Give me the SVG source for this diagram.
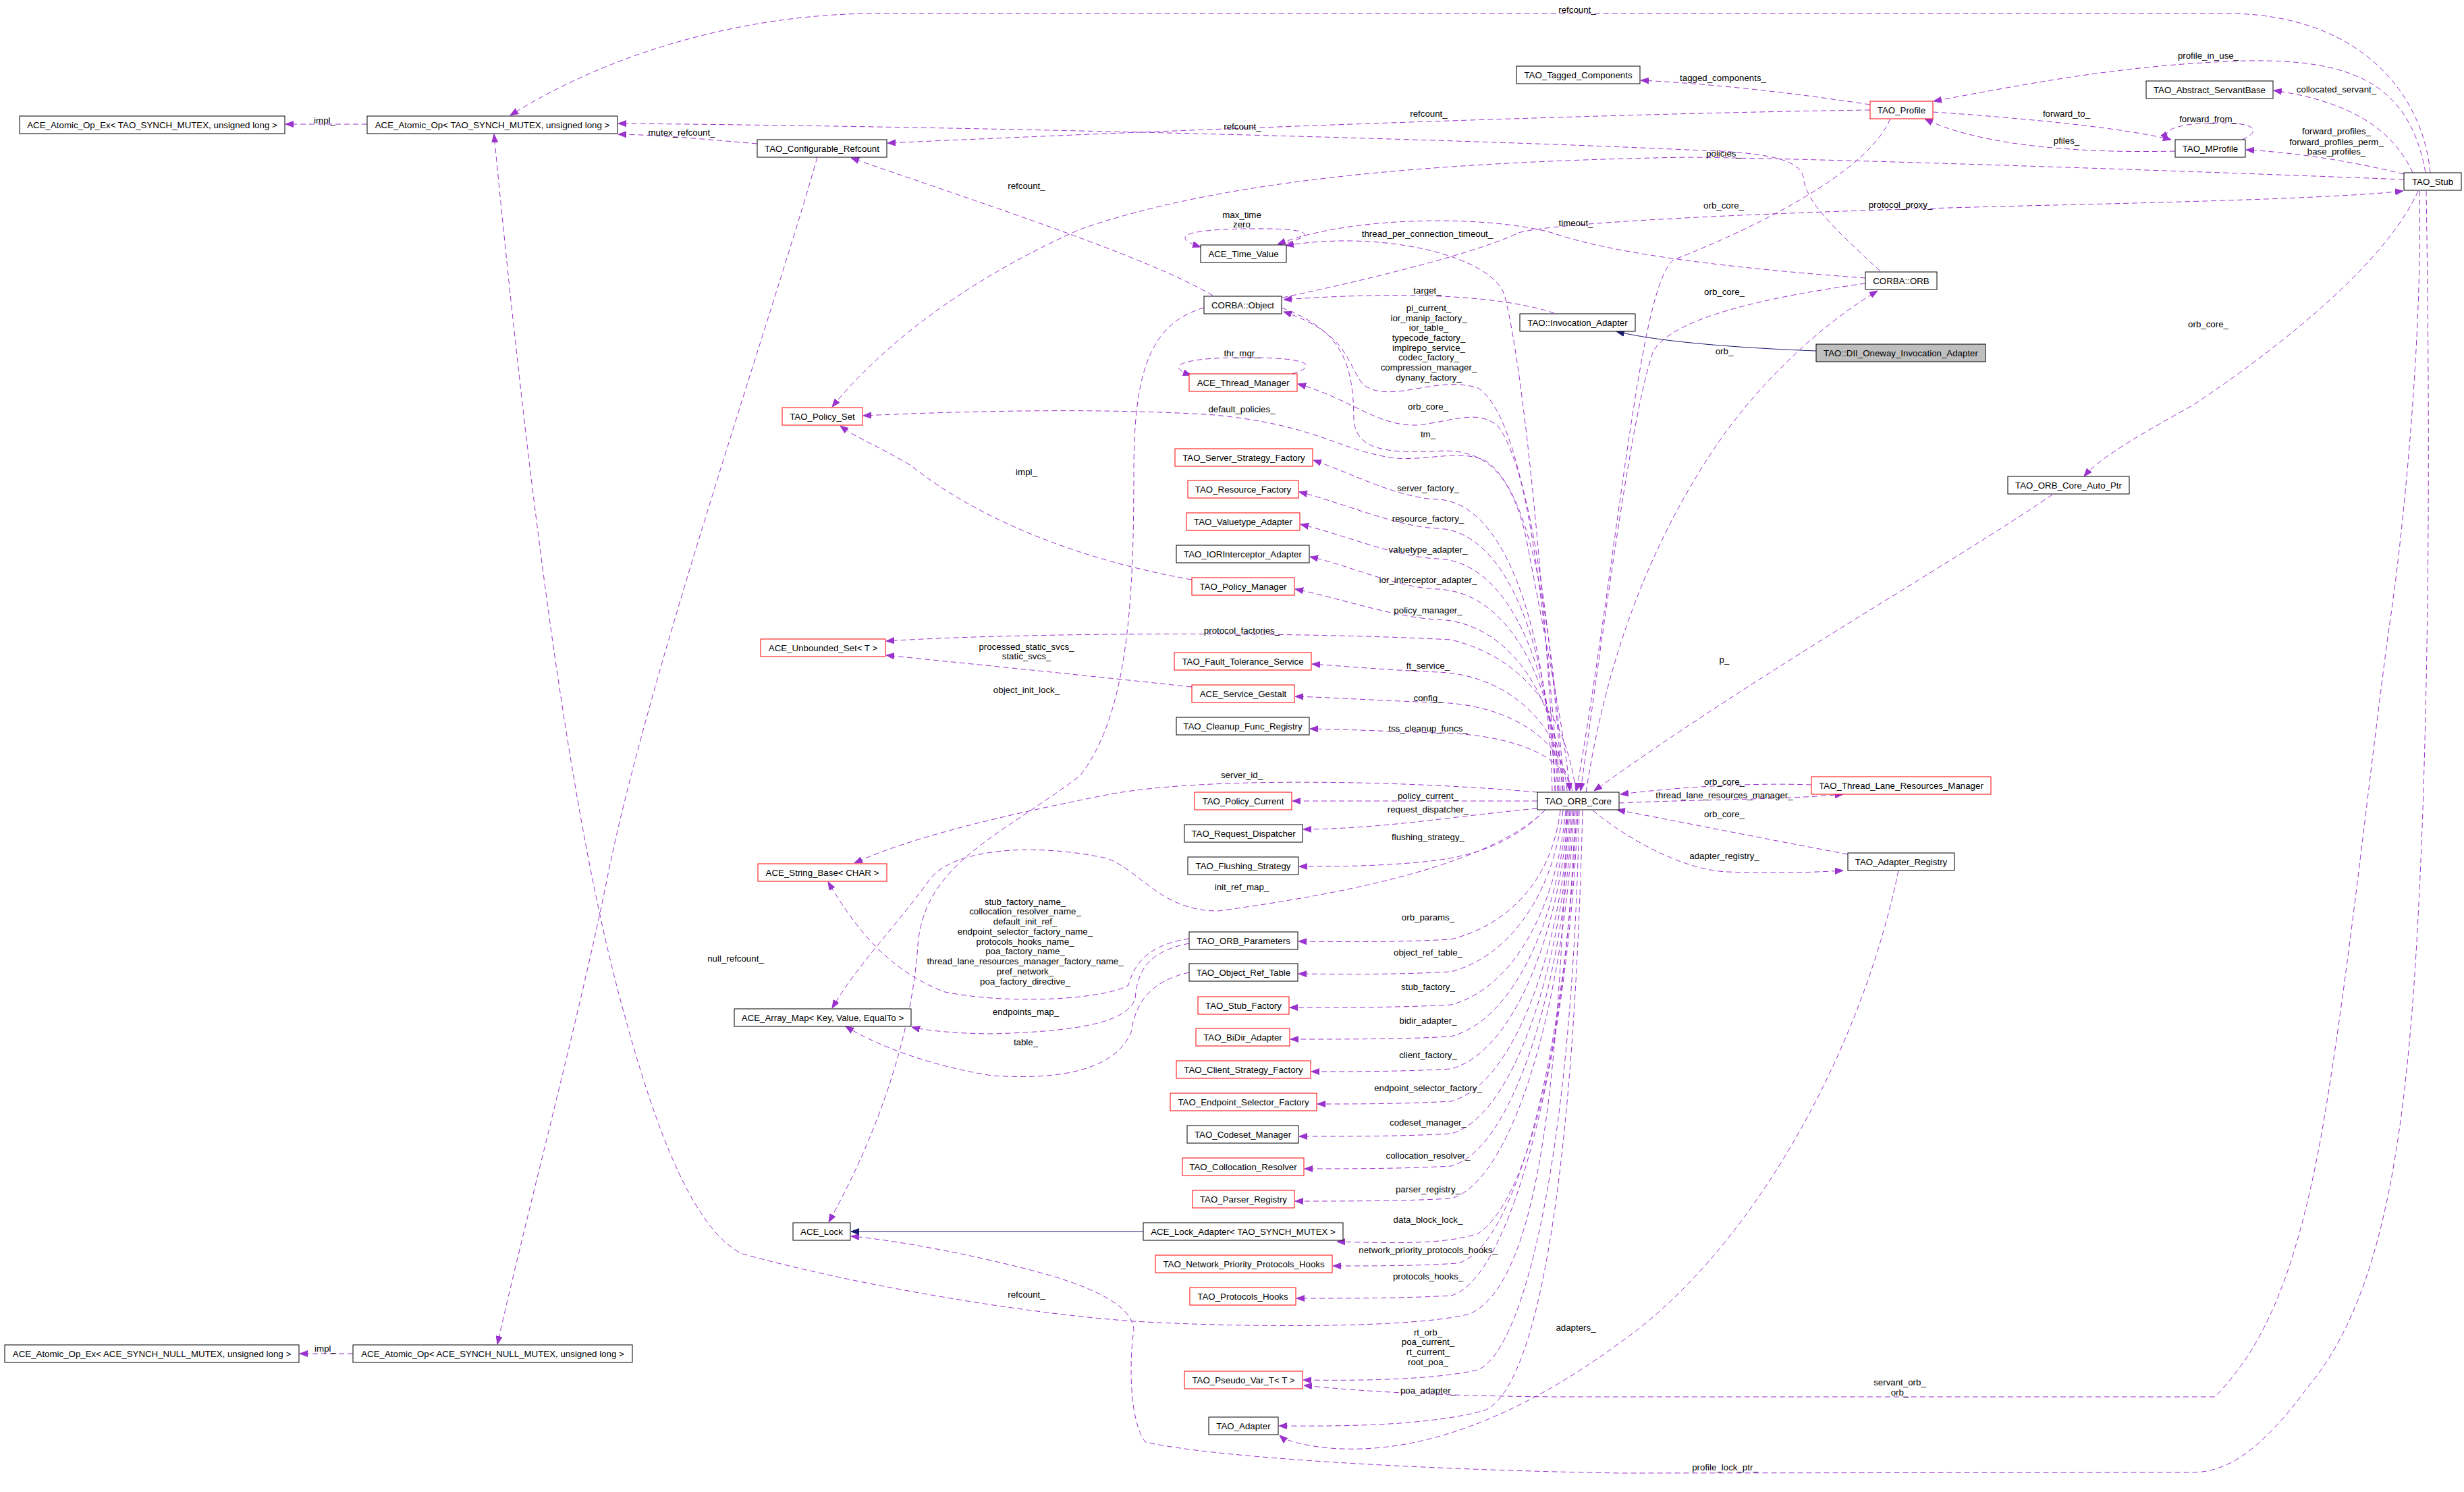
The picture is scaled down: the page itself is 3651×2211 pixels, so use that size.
<svg xmlns="http://www.w3.org/2000/svg" width="3651" height="2211" viewBox="0 0 3651 2211">
<style>
.node rect{fill:#fff;stroke:#000;stroke-width:1}
.node.red rect{stroke:#f00}
.node.root rect{fill:#bfbfbf}
text{font-family:"Liberation Sans",Arial,Helvetica,sans-serif;font-size:13.3px;fill:#000}
.node text,.lbl text{text-anchor:middle}
.e{fill:none;stroke:#9a32cd;stroke-width:1;stroke-dasharray:8 5;marker-end:url(#a)}
.i{fill:none;stroke:#191970;stroke-width:1;marker-end:url(#b)}
</style>
<defs>
<marker id="a" markerUnits="userSpaceOnUse" markerWidth="12" markerHeight="10" refX="12" refY="5" orient="auto" viewBox="0 0 12 10"><path d="M0,0.5 L12,5 L0,9.5z" fill="#9a32cd" stroke="#9a32cd"/></marker>
<marker id="b" markerUnits="userSpaceOnUse" markerWidth="12" markerHeight="10" refX="12" refY="5" orient="auto" viewBox="0 0 12 10"><path d="M0,0.5 L12,5 L0,9.5z" fill="#191970" stroke="#191970"/></marker>
</defs>
<rect width="3651" height="2211" fill="#fff"/>
<g id="edges">
<path class="e" d="M544,184 L423,184"/>
<path class="e" d="M1122,213 C1040,206 980,200 916,199"/>
<path class="e" d="M1211,233 C1150,450 960,1000 900,1300 C860,1500 780,1800 737,1992"/>
<path class="e" d="M523,2006 L444,2006"/>
<path class="e" d="M3601,256 C3590,140 3500,25 3310,20 L1300,20 C1100,20 900,80 756,171"/>
<path class="e" d="M2771,163 C2400,168 1800,190 1315,212"/>
<path class="e" d="M2786,402 C2720,340 2675,300 2672,262 C2665,232 2600,225 2500,222 C2200,208 1500,188 916,183"/>
<path class="e" d="M1797,438 C1700,380 1450,300 1261,234"/>
<path class="e" d="M2322,1201 C2310,1600 2280,1900 2178,1947 C2100,1968 1850,1968 1680,1958 C1500,1945 1250,1900 1100,1858 C1020,1820 960,1640 912,1454 C860,1250 800,900 732,199"/>
<path class="e" d="M2771,155 C2690,143 2570,126 2431,119"/>
<path class="e" d="M3594,256 C3570,120 3480,88 3330,90 C3150,95 3000,125 2865,150"/>
<path class="e" d="M3575,256 C3545,190 3480,150 3369,134"/>
<path class="e" d="M2864,166 C3000,175 3150,190 3217,207"/>
<path class="e" d="M3223,224 C3050,228 2920,210 2852,176"/>
<path class="e" d="M3322,207 C3350,195 3345,182 3290,182 C3230,182 3200,192 3213,207"/>
<path class="e" d="M3562,258 C3480,238 3400,226 3328,222"/>
<path class="e" d="M3562,266 C3200,252 2700,235 2500,233 C2100,240 1800,270 1600,340 C1420,420 1300,520 1233,603"/>
<path class="e" d="M1900,441 C2050,410 2200,370 2250,345 C2300,330 2600,315 3000,305 C3300,298 3480,292 3561,283"/>
<path class="e" d="M2764,412 C2600,400 2400,380 2300,345 C2200,318 2000,320 1893,362"/>
<path class="e" d="M2305,1172 C2290,900 2260,560 2230,440 C2215,380 2050,340 1905,364"/>
<path class="e" d="M1895,363 C1950,350 1950,338 1860,339 C1760,339 1730,350 1779,366"/>
<path class="e" d="M2303,464 C2230,440 2100,430 1902,444"/>
<path class="e" d="M2310,1172 C2290,900 2260,620 2190,575 C2130,555 2060,600 2020,570 C1995,540 2000,495 1902,462"/>
<path class="e" d="M1899,456 C1990,490 2005,540 2006,620 C2008,670 2060,672 2140,668 C2200,668 2240,700 2262,800 C2290,950 2318,1080 2326,1172"/>
<path class="e" d="M2315,1172 C2300,950 2270,700 2220,632 C2190,605 2150,625 2100,630 C2040,632 2000,590 1923,569"/>
<path class="e" d="M1915,554 C1960,540 1930,529 1840,530 C1750,530 1725,543 1765,556"/>
<path class="e" d="M2318,1172 C2300,950 2275,730 2200,682 C2160,665 2110,685 2060,678 C1980,665 1950,630 1800,615 C1650,605 1450,608 1279,616"/>
<path class="e" d="M2300,1172 C2295,950 2235,744 2130,740 C2070,738 2000,700 1946,682"/>
<path class="e" d="M2304,1172 C2298,980 2240,787 2130,783 C2070,781 1990,745 1925,729"/>
<path class="e" d="M2308,1172 C2300,1000 2240,832 2130,828 C2070,826 1990,792 1927,777"/>
<path class="e" d="M2312,1172 C2305,1020 2240,877 2130,873 C2070,871 2000,838 1941,825"/>
<path class="e" d="M2316,1172 C2310,1040 2240,922 2130,918 C2070,916 1980,885 1919,873"/>
<path class="e" d="M2322,1172 C2315,1080 2240,1000 2130,996 C2060,993 2000,988 1944,984"/>
<path class="e" d="M2326,1172 C2320,1100 2240,1044 2130,1041 C2060,1039 1980,1034 1919,1032"/>
<path class="e" d="M2330,1172 C2320,1120 2240,1088 2130,1086 C2060,1084 2000,1081 1941,1080"/>
<path class="e" d="M2335,1172 C2320,1060 2260,975 2150,948 C1900,935 1500,938 1313,950"/>
<path class="e" d="M1766,1018 C1600,1000 1450,985 1313,971"/>
<path class="e" d="M1766,859 C1600,830 1450,770 1350,690 C1300,660 1270,650 1245,631"/>
<path class="e" d="M1784,456 C1700,480 1680,560 1680,700 C1680,900 1670,1060 1600,1150 C1480,1240 1370,1280 1360,1400 C1350,1550 1290,1700 1228,1811"/>
<path class="e" d="M2290,1200 C2200,1290 1950,1330 1805,1350 C1720,1350 1690,1290 1640,1272 C1540,1250 1420,1255 1380,1300 C1330,1370 1270,1430 1233,1494"/>
<path class="e" d="M2278,1174 C2100,1158 1800,1150 1650,1176 C1500,1205 1350,1240 1266,1279"/>
<path class="e" d="M1762,1391 C1700,1400 1680,1430 1672,1460 C1640,1480 1500,1490 1400,1470 C1320,1440 1270,1380 1227,1307"/>
<path class="e" d="M1762,1398 C1700,1410 1685,1440 1682,1480 C1670,1515 1600,1528 1473,1532 C1420,1532 1370,1527 1351,1522"/>
<path class="e" d="M1762,1441 C1700,1455 1682,1490 1676,1530 C1650,1590 1560,1600 1470,1594 C1380,1580 1300,1550 1253,1521"/>
<path class="e" d="M2278,1187 L1915,1187"/>
<path class="e" d="M2278,1198 C2150,1210 2050,1228 1931,1229"/>
<path class="e" d="M2290,1200 C2250,1240 2200,1270 2100,1278 C2030,1284 1980,1284 1925,1284"/>
<path class="e" d="M2312,1201 C2300,1300 2240,1369 2150,1392 C2080,1396 2000,1396 1924,1395"/>
<path class="e" d="M2316,1201 C2303,1320 2240,1416 2150,1440 C2080,1444 2000,1444 1924,1443"/>
<path class="e" d="M2320,1201 C2306,1350 2240,1465 2150,1489 C2080,1493 2000,1493 1911,1493"/>
<path class="e" d="M2322,1201 C2308,1370 2240,1512 2150,1536 C2080,1540 2000,1540 1912,1540"/>
<path class="e" d="M2324,1201 C2310,1390 2240,1560 2150,1584 C2080,1588 2010,1588 1943,1588"/>
<path class="e" d="M2326,1201 C2312,1420 2240,1608 2150,1632 C2080,1636 2010,1636 1952,1636"/>
<path class="e" d="M2328,1201 C2314,1440 2240,1656 2150,1680 C2080,1684 2000,1684 1925,1684"/>
<path class="e" d="M2330,1201 C2316,1465 2240,1704 2150,1728 C2080,1732 2000,1732 1933,1732"/>
<path class="e" d="M2332,1201 C2318,1490 2240,1752 2150,1776 C2080,1780 2000,1780 1919,1780"/>
<path class="e" d="M2334,1201 C2320,1600 2250,1790 2190,1828 C2140,1845 2060,1842 1981,1840"/>
<path class="e" d="M2336,1201 C2322,1540 2250,1848 2160,1872 C2100,1876 2040,1876 1975,1876"/>
<path class="e" d="M2338,1201 C2324,1560 2240,1896 2150,1920 C2080,1924 2000,1924 1921,1924"/>
<path class="e" d="M2340,1201 C2330,1700 2260,2000 2190,2030 C2120,2046 2000,2046 1931,2045"/>
<path class="e" d="M2345,1201 C2330,1800 2270,2060 2200,2090 C2120,2112 2000,2114 1895,2113"/>
<path class="e" d="M3585,283 C3590,500 3560,800 3540,930 C3510,1150 3480,1450 3440,1680 C3400,1900 3350,2000 3282,2070 L2300,2070 C2100,2068 2000,2060 1932,2053"/>
<path class="e" d="M3595,283 C3600,600 3600,900 3590,1200 C3575,1600 3550,1900 3420,2055 C3350,2150 3300,2182 3248,2182 L2400,2183 C2100,2178 1800,2160 1697,2137 C1670,2100 1675,2000 1680,1972 C1680,1930 1600,1900 1515,1879 C1400,1850 1300,1835 1261,1832"/>
<path class="e" d="M2813,1290 C2760,1550 2600,1850 2400,1990 C2250,2100 2100,2160 1960,2145 C1925,2140 1905,2135 1896,2127"/>
<path class="e" d="M3583,283 C3540,380 3400,500 3250,600 C3160,650 3110,680 3088,706"/>
<path class="e" d="M3041,733 C2900,830 2600,1000 2362,1172"/>
<path class="e" d="M2684,1163 C2600,1160 2500,1165 2401,1177"/>
<path class="e" d="M2399,1190 C2500,1185 2650,1185 2731,1177"/>
<path class="e" d="M2738,1266 C2600,1240 2500,1220 2396,1200"/>
<path class="e" d="M2360,1201 C2420,1250 2500,1290 2560,1292 C2640,1295 2700,1292 2731,1290"/>
<path class="e" d="M2350,1174 C2380,980 2440,820 2530,680 C2600,570 2700,480 2782,431"/>
<path class="e" d="M2764,420 C2620,440 2480,470 2450,520 C2420,600 2380,900 2342,1172"/>
<path class="e" d="M2801,176 C2770,250 2620,330 2480,385 C2430,420 2400,800 2336,1172"/>
<path class="i" d="M2691,520 C2560,515 2450,505 2395,491"/>
<path class="i" d="M1694,1825 L1261,1825"/>
</g>
<g id="edge-labels" class="lbl">
<text x="481" y="183">impl_</text>
<text x="1010" y="201">mutex_refcount_</text>
<text x="2337" y="19">refcount_</text>
<text x="2117" y="173">refcount_</text>
<text x="1841" y="192">refcount_</text>
<text x="1521" y="280">refcount_</text>
<text x="2553" y="120">tagged_components_</text>
<text x="3272" y="87">profile_in_use_</text>
<text x="3462" y="137">collocated_servant_</text>
<text x="3062" y="173">forward_to_</text>
<text x="3272" y="181">forward_from_</text>
<text x="3062" y="213">pfiles_</text>
<text x="3462" y="199">forward_profiles_</text>
<text x="3462" y="215">forward_profiles_perm_</text>
<text x="3462" y="229">base_profiles_</text>
<text x="2554" y="232">policies_</text>
<text x="2554" y="309">orb_core_</text>
<text x="2816" y="308">protocol_proxy_</text>
<text x="1840" y="323">max_time</text>
<text x="1840" y="337">zero</text>
<text x="2335" y="335">timeout_</text>
<text x="2115" y="351">thread_per_connection_timeout_</text>
<text x="2555" y="437">orb_core_</text>
<text x="2115" y="435">target_</text>
<text x="2117" y="461">pi_current_</text>
<text x="2117" y="476">ior_manip_factory_</text>
<text x="2117" y="490">ior_table_</text>
<text x="2117" y="505">typecode_factory_</text>
<text x="2117" y="520">implrepo_service_</text>
<text x="2117" y="534">codec_factory_</text>
<text x="2117" y="549">compression_manager_</text>
<text x="2117" y="564">dynany_factory_</text>
<text x="3272" y="485">orb_core_</text>
<text x="2555" y="525">orb_</text>
<text x="1840" y="528">thr_mgr_</text>
<text x="2116" y="607">orb_core_</text>
<text x="1840" y="611">default_policies_</text>
<text x="2116" y="648">tm_</text>
<text x="1521" y="704">impl_</text>
<text x="2116" y="728">server_factory_</text>
<text x="2116" y="773">resource_factory_</text>
<text x="2116" y="819">valuetype_adapter_</text>
<text x="2116" y="864">ior_interceptor_adapter_</text>
<text x="2116" y="909">policy_manager_</text>
<text x="1840" y="939">protocol_factories_</text>
<text x="1521" y="963">processed_static_svcs_</text>
<text x="1521" y="977">static_svcs_</text>
<text x="2555" y="982">p_</text>
<text x="2116" y="991">ft_service_</text>
<text x="1521" y="1027">object_init_lock_</text>
<text x="2116" y="1039">config_</text>
<text x="2116" y="1084">tss_cleanup_funcs_</text>
<text x="1840" y="1153">server_id_</text>
<text x="2555" y="1163">orb_core_</text>
<text x="2555" y="1183">thread_lane_resources_manager_</text>
<text x="2116" y="1184">policy_current_</text>
<text x="2116" y="1204">request_dispatcher_</text>
<text x="2555" y="1211">orb_core_</text>
<text x="2116" y="1245">flushing_strategy_</text>
<text x="2555" y="1273">adapter_registry_</text>
<text x="1840" y="1319">init_ref_map_</text>
<text x="1519" y="1341">stub_factory_name_</text>
<text x="1519" y="1355">collocation_resolver_name_</text>
<text x="1519" y="1370">default_init_ref_</text>
<text x="1519" y="1385">endpoint_selector_factory_name_</text>
<text x="1519" y="1400">protocols_hooks_name_</text>
<text x="1519" y="1414">poa_factory_name_</text>
<text x="1519" y="1429">thread_lane_resources_manager_factory_name_</text>
<text x="1519" y="1444">pref_network_</text>
<text x="1519" y="1459">poa_factory_directive_</text>
<text x="2116" y="1364">orb_params_</text>
<text x="2116" y="1416">object_ref_table_</text>
<text x="1090" y="1425">null_refcount_</text>
<text x="2116" y="1467">stub_factory_</text>
<text x="1520" y="1504">endpoints_map_</text>
<text x="2116" y="1517">bidir_adapter_</text>
<text x="1520" y="1549">table_</text>
<text x="2116" y="1568">client_factory_</text>
<text x="2116" y="1617">endpoint_selector_factory_</text>
<text x="2116" y="1668">codeset_manager_</text>
<text x="2116" y="1717">collocation_resolver_</text>
<text x="2116" y="1767">parser_registry_</text>
<text x="2116" y="1812">data_block_lock_</text>
<text x="2116" y="1857">network_priority_protocols_hooks_</text>
<text x="2116" y="1896">protocols_hooks_</text>
<text x="1521" y="1923">refcount_</text>
<text x="2335" y="1972">adapters_</text>
<text x="2116" y="1979">rt_orb_</text>
<text x="2116" y="1993">poa_current_</text>
<text x="2116" y="2008">rt_current_</text>
<text x="2116" y="2023">root_poa_</text>
<text x="482" y="2003">impl_</text>
<text x="2815" y="2053">servant_orb_</text>
<text x="2815" y="2068">orb_</text>
<text x="2116" y="2065">poa_adapter_</text>
<text x="2556" y="2179">profile_lock_ptr_</text>
</g>
<g id="n-A1" class="node"><rect x="29" y="172" width="393" height="26"/><text x="225.5" y="189.7">ACE_Atomic_Op_Ex&lt; TAO_SYNCH_MUTEX, unsigned long &gt;</text></g>
<g id="n-A2" class="node"><rect x="544" y="172" width="371" height="26"/><text x="729.5" y="189.7">ACE_Atomic_Op&lt; TAO_SYNCH_MUTEX, unsigned long &gt;</text></g>
<g id="n-A3" class="node"><rect x="7" y="1993" width="436" height="26"/><text x="225" y="2010.7">ACE_Atomic_Op_Ex&lt; ACE_SYNCH_NULL_MUTEX, unsigned long &gt;</text></g>
<g id="n-A4" class="node"><rect x="523" y="1993" width="414" height="26"/><text x="730" y="2010.7">ACE_Atomic_Op&lt; ACE_SYNCH_NULL_MUTEX, unsigned long &gt;</text></g>
<g id="n-CR" class="node"><rect x="1122" y="207" width="192" height="26"/><text x="1218" y="224.7">TAO_Configurable_Refcount</text></g>
<g id="n-TC" class="node"><rect x="2247" y="98" width="183" height="26"/><text x="2338.5" y="115.7">TAO_Tagged_Components</text></g>
<g id="n-TP" class="node red"><rect x="2771" y="150" width="93" height="26"/><text x="2817.5" y="167.7">TAO_Profile</text></g>
<g id="n-ASB" class="node"><rect x="3180" y="120" width="188" height="26"/><text x="3274" y="137.7">TAO_Abstract_ServantBase</text></g>
<g id="n-MP" class="node"><rect x="3223" y="207" width="104" height="26"/><text x="3275" y="224.7">TAO_MProfile</text></g>
<g id="n-ST" class="node"><rect x="3562" y="256" width="85" height="26"/><text x="3604.5" y="273.7">TAO_Stub</text></g>
<g id="n-TV" class="node"><rect x="1779" y="363" width="127" height="26"/><text x="1842.5" y="380.7">ACE_Time_Value</text></g>
<g id="n-CO" class="node"><rect x="1784" y="439" width="115" height="26"/><text x="1841.5" y="456.7">CORBA::Object</text></g>
<g id="n-ORB" class="node"><rect x="2764" y="403" width="106" height="26"/><text x="2817" y="420.7">CORBA::ORB</text></g>
<g id="n-IA" class="node"><rect x="2252" y="465" width="171" height="26"/><text x="2337.5" y="482.7">TAO::Invocation_Adapter</text></g>
<g id="n-DII" class="node root"><rect x="2691" y="510" width="251" height="26"/><text x="2816.5" y="527.7">TAO::DII_Oneway_Invocation_Adapter</text></g>
<g id="n-TM" class="node red"><rect x="1762" y="554" width="160" height="26"/><text x="1842" y="571.7">ACE_Thread_Manager</text></g>
<g id="n-PS" class="node red"><rect x="1159" y="604" width="119" height="26"/><text x="1218.5" y="621.7">TAO_Policy_Set</text></g>
<g id="n-SSF" class="node red"><rect x="1741" y="665" width="204" height="26"/><text x="1843" y="682.7">TAO_Server_Strategy_Factory</text></g>
<g id="n-RF" class="node red"><rect x="1760" y="712" width="164" height="26"/><text x="1842" y="729.7">TAO_Resource_Factory</text></g>
<g id="n-VA" class="node red"><rect x="1758" y="760" width="168" height="26"/><text x="1842" y="777.7">TAO_Valuetype_Adapter</text></g>
<g id="n-IORI" class="node"><rect x="1743" y="808" width="197" height="26"/><text x="1841.5" y="825.7">TAO_IORInterceptor_Adapter</text></g>
<g id="n-PM" class="node red"><rect x="1766" y="856" width="152" height="26"/><text x="1842" y="873.7">TAO_Policy_Manager</text></g>
<g id="n-US" class="node red"><rect x="1127" y="947" width="185" height="26"/><text x="1219.5" y="964.7">ACE_Unbounded_Set&lt; T &gt;</text></g>
<g id="n-FTS" class="node red"><rect x="1740" y="967" width="203" height="26"/><text x="1841.5" y="984.7">TAO_Fault_Tolerance_Service</text></g>
<g id="n-SG" class="node red"><rect x="1766" y="1015" width="152" height="26"/><text x="1842" y="1032.7">ACE_Service_Gestalt</text></g>
<g id="n-CFR" class="node"><rect x="1743" y="1063" width="197" height="26"/><text x="1841.5" y="1080.7">TAO_Cleanup_Func_Registry</text></g>
<g id="n-OAP" class="node"><rect x="2975" y="706" width="180" height="26"/><text x="3065" y="723.7">TAO_ORB_Core_Auto_Ptr</text></g>
<g id="n-OC" class="node"><rect x="2278" y="1174" width="121" height="26"/><text x="2338.5" y="1191.7">TAO_ORB_Core</text></g>
<g id="n-TLRM" class="node red"><rect x="2684" y="1151" width="266" height="26"/><text x="2817" y="1168.7">TAO_Thread_Lane_Resources_Manager</text></g>
<g id="n-AR" class="node"><rect x="2738" y="1264" width="158" height="26"/><text x="2817" y="1281.7">TAO_Adapter_Registry</text></g>
<g id="n-PC" class="node red"><rect x="1770" y="1174" width="144" height="26"/><text x="1842" y="1191.7">TAO_Policy_Current</text></g>
<g id="n-RD" class="node"><rect x="1755" y="1222" width="175" height="26"/><text x="1842.5" y="1239.7">TAO_Request_Dispatcher</text></g>
<g id="n-FS" class="node"><rect x="1760" y="1270" width="164" height="26"/><text x="1842" y="1287.7">TAO_Flushing_Strategy</text></g>
<g id="n-SB" class="node red"><rect x="1123" y="1280" width="191" height="26"/><text x="1218.5" y="1297.7">ACE_String_Base&lt; CHAR &gt;</text></g>
<g id="n-OP" class="node"><rect x="1762" y="1381" width="161" height="26"/><text x="1842.5" y="1398.7">TAO_ORB_Parameters</text></g>
<g id="n-ORT" class="node"><rect x="1762" y="1428" width="161" height="26"/><text x="1842.5" y="1445.7">TAO_Object_Ref_Table</text></g>
<g id="n-AM" class="node"><rect x="1088" y="1495" width="262" height="26"/><text x="1219" y="1512.7">ACE_Array_Map&lt; Key, Value, EqualTo &gt;</text></g>
<g id="n-SF" class="node red"><rect x="1775" y="1477" width="135" height="26"/><text x="1842.5" y="1494.7">TAO_Stub_Factory</text></g>
<g id="n-BA" class="node red"><rect x="1772" y="1524" width="139" height="26"/><text x="1841.5" y="1541.7">TAO_BiDir_Adapter</text></g>
<g id="n-CSF" class="node red"><rect x="1743" y="1572" width="199" height="26"/><text x="1842.5" y="1589.7">TAO_Client_Strategy_Factory</text></g>
<g id="n-ESF" class="node red"><rect x="1734" y="1620" width="217" height="26"/><text x="1842.5" y="1637.7">TAO_Endpoint_Selector_Factory</text></g>
<g id="n-CM" class="node"><rect x="1759" y="1668" width="165" height="26"/><text x="1841.5" y="1685.7">TAO_Codeset_Manager</text></g>
<g id="n-CRv" class="node red"><rect x="1752" y="1716" width="180" height="26"/><text x="1842" y="1733.7">TAO_Collocation_Resolver</text></g>
<g id="n-PR" class="node red"><rect x="1767" y="1764" width="151" height="26"/><text x="1842.5" y="1781.7">TAO_Parser_Registry</text></g>
<g id="n-AL" class="node"><rect x="1175" y="1812" width="85" height="26"/><text x="1217.5" y="1829.7">ACE_Lock</text></g>
<g id="n-LA" class="node"><rect x="1694" y="1812" width="296" height="26"/><text x="1842" y="1829.7">ACE_Lock_Adapter&lt; TAO_SYNCH_MUTEX &gt;</text></g>
<g id="n-NPPH" class="node red"><rect x="1712" y="1860" width="262" height="26"/><text x="1843" y="1877.7">TAO_Network_Priority_Protocols_Hooks</text></g>
<g id="n-PH" class="node red"><rect x="1763" y="1908" width="157" height="26"/><text x="1841.5" y="1925.7">TAO_Protocols_Hooks</text></g>
<g id="n-PV" class="node red"><rect x="1755" y="2032" width="175" height="26"/><text x="1842.5" y="2049.7">TAO_Pseudo_Var_T&lt; T &gt;</text></g>
<g id="n-AD" class="node"><rect x="1791" y="2100" width="103" height="26"/><text x="1842.5" y="2117.7">TAO_Adapter</text></g>
</svg>
